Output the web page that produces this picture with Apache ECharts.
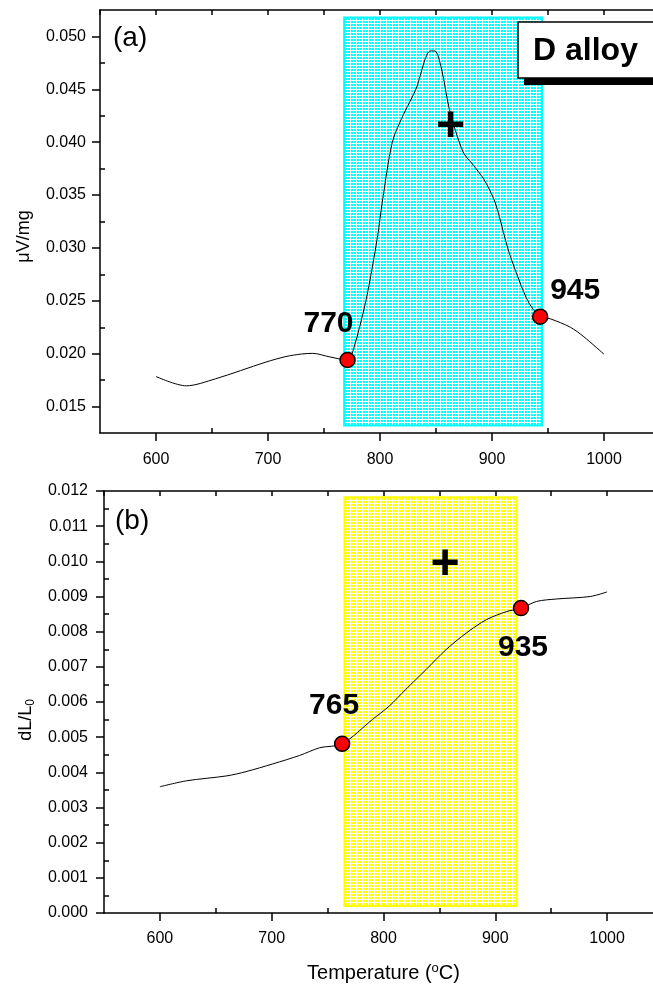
<!DOCTYPE html>
<html>
<head>
<meta charset="utf-8">
<script src="https://cdn.jsdelivr.net/npm/echarts@6/dist/echarts.min.js"></script>
<style>
  html, body { margin: 0; padding: 0; background: #fff; }
  #chart { width: 653px; height: 989px; }
</style>
</head>
<body>
<div id="chart"></div>
<script>
// (a) DSC curve, uV/mg vs temperature
const tempA = [600, 627, 653, 698, 716, 730, 740, 755, 771, 776, 787, 793, 798, 802, 811, 820, 832, 845, 849, 855, 862, 874, 882, 893, 903, 914, 924, 933, 943, 952, 970, 982, 1000];
const dscA = [0.01784, 0.01696, 0.01762, 0.0192, 0.01973, 0.01997, 0.02003, 0.0197, 0.0194, 0.0203, 0.0248, 0.0281, 0.0312, 0.0343, 0.0400, 0.0424, 0.0450, 0.04863, 0.04863, 0.0469, 0.0431, 0.0391, 0.0380, 0.03645, 0.03424, 0.0300, 0.0270, 0.0248, 0.0235, 0.0233, 0.0225, 0.0216, 0.01995];
const markTempA = [771, 943];
const markValA = [0.0194, 0.0235];
const markTextA = ['770', '945'];
const rangeTempA = [768, 944.6];
const rangeValA = [0.0132, 0.0518];
const plusA = [863, 0.0414];

// (b) dilatometry, dL/L0 vs temperature
const tempB = [600, 624, 660, 677, 701, 725, 743, 763, 790, 805, 820, 838, 856, 874, 892, 910, 923, 937, 955, 985, 1000];
const dilB = [0.00359, 0.00376, 0.00390, 0.00402, 0.00424, 0.00448, 0.0047, 0.00481, 0.0055, 0.00588, 0.00636, 0.00692, 0.00749, 0.00796, 0.00834, 0.00857, 0.00867, 0.00886, 0.00893, 0.0090, 0.00913];
const markTempB = [763, 923];
const markValB = [0.00481, 0.00867];
const markTextB = ['765', '935'];
const rangeTempB = [765, 919];
const rangeValB = [0.0002, 0.01182];
const plusB = [855, 0.0099];

// ticks
const xMajor = [600, 700, 800, 900, 1000];
const xMinor = [650, 750, 850, 950, 1050];
const xAll = [550, 600, 650, 700, 750, 800, 850, 900, 950, 1000, 1050];
const yMajorA = [0.015, 0.020, 0.025, 0.030, 0.035, 0.040, 0.045, 0.050];
const yMinorA = [0.0175, 0.0225, 0.0275, 0.0325, 0.0375, 0.0425, 0.0475];
const yMajorB = [0.000, 0.001, 0.002, 0.003, 0.004, 0.005, 0.006, 0.007, 0.008, 0.009, 0.010, 0.011, 0.012];
const yMinorB = [0.0005, 0.0015, 0.0025, 0.0035, 0.0045, 0.0055, 0.0065, 0.0075, 0.0085, 0.0095, 0.0105, 0.0115];

const FONT = 'Liberation Sans, Arial, sans-serif';
const black = { color: '#000', width: 1.5 };

function dotPattern(color) {
  const c = document.createElement('canvas');
  c.width = 3;
  c.height = 3;
  const ctx = c.getContext('2d');
  ctx.fillStyle = '#ffffff';
  ctx.fillRect(0, 0, 3, 3);
  ctx.fillStyle = color;
  ctx.fillRect(0, 0, 2, 2);
  return { image: c, repeat: 'repeat' };
}

function zip(a, b) {
  return a.map((v, i) => [v, b[i]]);
}

function xAxes(grid, withName, margin) {
  return [
    {
      gridIndex: grid, type: 'value', position: 'bottom', min: 550, max: 1050,
      axisLine: { lineStyle: black },
      axisTick: { customValues: xMajor, length: 8, lineStyle: black },
      axisLabel: {
        customValues: xMajor, color: '#000', fontSize: 16, fontFamily: FONT, margin: margin,
        formatter: v => String(v)
      },
      splitLine: { show: false },
      name: withName ? 'Temperature ({sup|o}C)' : '',
      nameLocation: 'middle',
      nameGap: 49,
      nameTextStyle: {
        color: '#000', fontSize: 20, fontFamily: FONT,
        rich: { sup: { fontSize: 13, fontFamily: FONT, color: '#000', verticalAlign: 'top', padding: [0, 0, 9, 0] } }
      }
    },
    {
      gridIndex: grid, type: 'value', position: 'bottom', min: 550, max: 1050,
      axisLine: { show: false },
      axisTick: { customValues: xMinor, inside: true, length: 5, lineStyle: black },
      axisLabel: { show: false },
      splitLine: { show: false }
    },
    {
      gridIndex: grid, type: 'value', position: 'top', min: 550, max: 1050,
      axisLine: { lineStyle: black },
      axisTick: { customValues: xAll, inside: true, length: 5, lineStyle: black },
      axisLabel: { show: false },
      splitLine: { show: false }
    }
  ];
}

function yAxes(grid, min, max, major, minor, name, shift, margin) {
  return [
    {
      gridIndex: grid, type: 'value', position: 'left', min: min, max: max,
      axisLine: { lineStyle: black },
      axisTick: { customValues: major, length: 8, lineStyle: black },
      axisLabel: {
        customValues: major, color: '#000', fontSize: 16, fontFamily: FONT, margin: margin,
        formatter: v => v.toFixed(3)
      },
      splitLine: { show: false },
      name: name,
      nameLocation: 'middle',
      nameGap: 67,
      nameTextStyle: {
        color: '#000', fontSize: 18, fontFamily: FONT, padding: [0, shift, 0, 0],
        rich: {
          m: { fontSize: 18, fontFamily: FONT, color: '#000' },
          sub: { fontSize: 12, fontFamily: FONT, color: '#000', verticalAlign: 'bottom', padding: [9, 0, 0, 0] }
        }
      }
    },
    {
      gridIndex: grid, type: 'value', position: 'left', min: min, max: max,
      axisLine: { show: false },
      axisTick: { customValues: minor, inside: true, length: 5, lineStyle: black },
      axisLabel: { show: false },
      splitLine: { show: false }
    }
  ];
}

function curveSeries(xi, yi, temps, vals) {
  return {
    type: 'line', xAxisIndex: xi, yAxisIndex: yi, z: 3,
    data: zip(temps, vals), smooth: 0.3, symbol: 'none',
    lineStyle: { color: '#000', width: 1 }
  };
}

function rangeSeries(xi, yi, rt, rv, fill, border) {
  return {
    type: 'line', xAxisIndex: xi, yAxisIndex: yi, z: 1, data: [],
    markArea: {
      silent: true,
      itemStyle: { color: dotPattern(fill), borderColor: border, borderWidth: 2 },
      data: [[{ xAxis: rt[0], yAxis: rv[0] }, { xAxis: rt[1], yAxis: rv[1] }]]
    }
  };
}

function markerSeries(xi, yi, temps, vals, texts, offsets) {
  return {
    type: 'scatter', xAxisIndex: xi, yAxisIndex: yi, z: 5,
    symbolSize: 15,
    itemStyle: { color: '#ff0000', borderColor: '#000', borderWidth: 1.5, opacity: 1 },
    data: temps.map((t, i) => ({
      value: [t, vals[i]],
      label: {
        show: true, formatter: texts[i], position: 'inside', offset: offsets[i],
        color: '#000', fontSize: 30, fontWeight: 'bold', fontFamily: FONT, textBorderWidth: 0
      }
    }))
  };
}

function plusSeries(xi, yi, p) {
  return {
    type: 'scatter', xAxisIndex: xi, yAxisIndex: yi, z: 6,
    symbolSize: 0, itemStyle: { color: '#000', opacity: 1 },
    data: [p],
    label: {
      show: true, formatter: '+', position: 'inside', color: '#000', opacity: 1,
      fontSize: 50, fontWeight: 'bold', fontFamily: FONT, textBorderWidth: 0
    }
  };
}

const chart = echarts.init(document.getElementById('chart'), null, { renderer: 'canvas' });

const option = {
  backgroundColor: '#fff',
  animation: false,
  grid: [
    { left: 100, top: 10, width: 560, height: 423, outerBoundsMode: 'none', containLabel: false },
    { left: 104, top: 491, width: 559, height: 422, outerBoundsMode: 'none', containLabel: false }
  ],
  xAxis: [].concat(xAxes(0, false, 19), xAxes(1, true, 18)),
  yAxis: [].concat(
    yAxes(0, 0.0125, 0.0525, yMajorA, yMinorA, 'μV/mg', 30, 14),
    yAxes(1, 0, 0.012, yMajorB, yMinorB, '{m|dL/L}{sub|0}', 36, 16)
  ),
  series: [
    rangeSeries(0, 0, rangeTempA, rangeValA, '#00ffff', '#00ffff'),
    curveSeries(0, 0, tempA, dscA),
    markerSeries(0, 0, markTempA, markValA, markTextA, [[-19, -36], [35, -26]]),
    plusSeries(0, 0, plusA),
    rangeSeries(3, 2, rangeTempB, rangeValB, '#ffff00', '#ffff00'),
    curveSeries(3, 2, tempB, dilB),
    markerSeries(3, 2, markTempB, markValB, markTextB, [[-8, -38], [2, 40]]),
    plusSeries(3, 2, plusB)
  ],
  graphic: [
    { type: 'text', left: 113, top: 24, style: { text: '(a)', font: '28px ' + FONT, fill: '#000' } },
    { type: 'text', left: 115, top: 507, style: { text: '(b)', font: '28px ' + FONT, fill: '#000' } },
    { type: 'rect', shape: { x: 524, y: 29, width: 160, height: 56 }, style: { fill: '#000' }, z: 10 },
    { type: 'rect', shape: { x: 518, y: 22, width: 160, height: 56 }, style: { fill: '#fff', stroke: '#000', lineWidth: 1.5 }, z: 11 },
    { type: 'text', x: 533, y: 51, style: { text: 'D alloy', font: 'bold 32px ' + FONT, fill: '#000', verticalAlign: 'middle' }, z: 12 }
  ]
};

chart.setOption(option);
</script>
</body>
</html>
